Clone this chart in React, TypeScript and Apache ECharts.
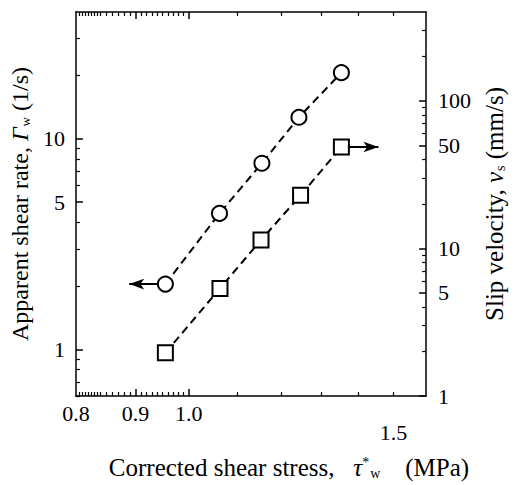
import React, { useEffect, useRef } from "react";
import * as echarts from "echarts";

// ---- data ----
const circleStress = [0.955, 1.063, 1.156, 1.244, 1.353];
const shearRate = [2.04, 4.42, 7.65, 12.65, 20.6];
const squareStress = [0.955, 1.064, 1.154, 1.248, 1.353];
const slipVelocity = [1.96, 5.36, 11.4, 22.9, 48.7];

// arrow tips (x in MPa) pointing to each series' axis
const leftArrowTip = 0.889;
const rightArrowTip = 1.456;

// ---- axis ticks and labels ----
const xLabels = [0.8, 0.9, 1.0];
const xLabelsLow = [1.5];
const xMajorTicks = [0.9, 1.0];
const xMinorTicks = [
  0.805, 0.81, 0.815, 0.82, 0.825, 0.83, 0.835, 0.84, 0.85, 0.86, 0.87, 0.88, 0.89,
  0.91, 0.92, 0.93, 0.94, 0.95, 0.96, 0.97, 0.98, 0.99, 1.1, 1.2, 1.3, 1.4, 1.5,
];
const leftLabels = [1, 5, 10];
const leftMinorTicks = [0.6, 0.7, 0.8, 0.9, 2, 3, 4, 6, 7, 8, 9, 20, 30];
const rightLabels = [1, 5, 10, 50, 100];
const rightMinorTicks = [2, 3, 4, 6, 7, 8, 9, 20, 30, 40, 60, 70, 80, 90, 200, 300];

const FONT = "Liberation Serif";
const BLACK = "#000";

function richFor(size: number) {
  const small = Math.round(size * 0.56);
  return {
    i: { fontFamily: FONT, fontSize: size, fontStyle: "italic", color: BLACK },
    sub: { fontFamily: FONT, fontSize: small, color: BLACK, verticalAlign: "bottom", padding: [0, 0, 0, 1] },
    sup: { fontFamily: FONT, fontSize: small, color: BLACK, verticalAlign: "top" },
  };
}

export default function App() {
  const ref = useRef<HTMLDivElement>(null);

  useEffect(() => {
    if (!ref.current) return;
    const chart = echarts.init(ref.current, undefined, { renderer: "svg" });

    const xBase = (extra: any) => ({
      type: "log",
      min: 0.8,
      max: 1.6,
      logBase: 10,
      gridIndex: 0,
      splitLine: { show: false },
      ...extra,
    });
    const yBase = (min: number, max: number, extra: any) => ({
      type: "log",
      min,
      max,
      logBase: 10,
      gridIndex: 0,
      splitLine: { show: false },
      ...extra,
    });
    const lineStyle = { color: BLACK, width: 1.5 };
    const minorLine = { color: BLACK, width: 1.2 };
    const labelStyle = { fontFamily: FONT, fontSize: 22, color: BLACK };

    const option: any = {
      animation: false,
      backgroundColor: "#fff",
      grid: { left: 74, top: 12, width: 369, height: 392, containLabel: false },
      xAxis: [
        xBase({
          position: "bottom",
          axisLine: { show: true, lineStyle },
          axisTick: { show: true, inside: true, length: 7, lineStyle, customValues: xMajorTicks },
          axisLabel: {
            show: true,
            customValues: xLabels,
            formatter: (v: number) => v.toFixed(1),
            margin: 6,
            ...labelStyle,
          },
          name: "Corrected shear stress,   {i|τ}{sup|*}{sub|w}    (MPa)",
          nameLocation: "middle",
          nameGap: 59,
          nameTextStyle: { fontFamily: FONT, fontSize: 25, color: BLACK, rich: richFor(25), padding: [0, 0, 0, 76] },
        }),
        xBase({
          position: "bottom",
          axisLine: { show: false },
          axisTick: { show: true, inside: true, length: 4, lineStyle: minorLine, customValues: xMinorTicks },
          axisLabel: {
            show: true,
            customValues: xLabelsLow,
            formatter: (v: number) => v.toFixed(1),
            margin: 25,
            ...labelStyle,
          },
        }),
        xBase({
          position: "top",
          axisLine: { show: true, lineStyle },
          axisTick: { show: true, inside: true, length: 7, lineStyle, customValues: xMajorTicks },
          axisLabel: { show: false },
        }),
        xBase({
          position: "top",
          axisLine: { show: false },
          axisTick: { show: true, inside: true, length: 4, lineStyle: minorLine, customValues: xMinorTicks },
          axisLabel: { show: false },
        }),
      ],
      yAxis: [
        yBase(0.6, 40, {
          position: "left",
          axisLine: { show: true, lineStyle },
          axisTick: { show: true, inside: true, length: 7, lineStyle, customValues: leftLabels },
          axisLabel: { show: true, customValues: leftLabels, margin: 11, ...labelStyle },
          name: "Apparent shear rate, {i|Γ}{sub|w} (1/s)",
          nameLocation: "middle",
          nameRotate: 90,
          nameGap: 43,
          nameTextStyle: { fontFamily: FONT, fontSize: 24, color: BLACK, rich: richFor(24) },
        }),
        yBase(0.6, 40, {
          position: "left",
          axisLine: { show: false },
          axisTick: { show: true, inside: true, length: 4, lineStyle: minorLine, customValues: leftMinorTicks },
          axisLabel: { show: false },
        }),
        yBase(1, 400, {
          position: "right",
          axisLine: { show: true, lineStyle },
          axisTick: { show: true, inside: true, length: 7, lineStyle, customValues: rightLabels },
          axisLabel: { show: true, customValues: rightLabels, margin: 12, ...labelStyle },
          name: "Slip velocity, {i|v}{sub|s} (mm/s)",
          nameLocation: "middle",
          nameRotate: 90,
          nameGap: 51,
          nameTextStyle: { fontFamily: FONT, fontSize: 25, color: BLACK, rich: richFor(25) },
        }),
        yBase(1, 400, {
          position: "right",
          axisLine: { show: false },
          axisTick: { show: true, inside: true, length: 4, lineStyle: minorLine, customValues: rightMinorTicks },
          axisLabel: { show: false },
        }),
      ],
      series: [
        {
          type: "line",
          name: "Apparent shear rate",
          xAxisIndex: 0,
          yAxisIndex: 0,
          data: circleStress.map((x, i) => [x, shearRate[i]]),
          symbol: "circle",
          symbolSize: 15,
          showAllSymbol: true,
          lineStyle: { color: BLACK, width: 2, type: [8, 5] },
          itemStyle: { color: "#fff", borderColor: BLACK, borderWidth: 2 },
          z: 3,
          markLine: {
            silent: true,
            symbol: ["none", "arrow"],
            symbolSize: [8, 15],
            label: { show: false },
            lineStyle: { color: BLACK, width: 2, type: "solid" },
            z: 2,
            data: [
              [
                { coord: [circleStress[0], shearRate[0]] },
                { coord: [leftArrowTip, shearRate[0]] },
              ],
            ],
          },
        },
        {
          type: "line",
          name: "Slip velocity",
          xAxisIndex: 0,
          yAxisIndex: 2,
          data: squareStress.map((x, i) => [x, slipVelocity[i]]),
          symbol: "rect",
          symbolSize: 15,
          showAllSymbol: true,
          lineStyle: { color: BLACK, width: 2, type: [8, 5] },
          itemStyle: { color: "#fff", borderColor: BLACK, borderWidth: 2 },
          z: 3,
          markLine: {
            silent: true,
            symbol: ["none", "arrow"],
            symbolSize: [8, 15],
            label: { show: false },
            lineStyle: { color: BLACK, width: 2, type: "solid" },
            z: 2,
            data: [
              [
                { coord: [squareStress[4], slipVelocity[4]] },
                { coord: [rightArrowTip, slipVelocity[4]] },
              ],
            ],
          },
        },
      ],
    };

    chart.setOption(option);
    return () => chart.dispose();
  }, []);

  return (
    <div
      ref={ref}
      style={{ position: "fixed", left: 0, top: 0, width: 515, height: 485, background: "#fff" }}
    />
  );
}
